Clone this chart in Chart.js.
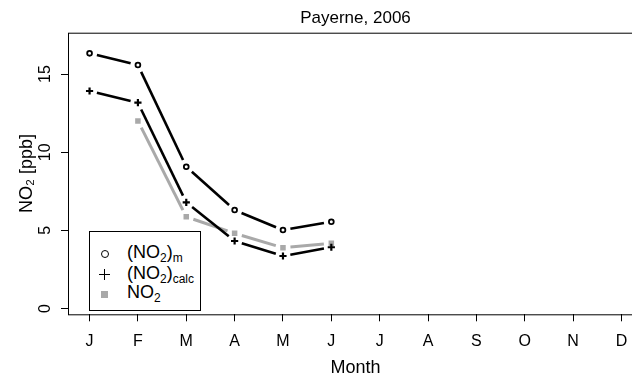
<!DOCTYPE html>
<html>
<head>
<meta charset="utf-8">
<script src="https://cdn.jsdelivr.net/npm/chart.js@4"></script>
<style>
  body { margin: 0; overflow: hidden; background: #fff; }
  #wrap { position: relative; width: 660px; height: 377px; }
  #legend {
    position: absolute; left: 89px; top: 231px; width: 112px; height: 80px;
    box-sizing: border-box; border: 1px solid #000; background: #fff;
    font-family: "Liberation Sans", Arial, sans-serif; font-size: 18px; color: #000;
  }
  #legend .row { position: absolute; left: 0; height: 20px; line-height: 20px; width: 100%; }
  #legend .txt { position: absolute; left: 37px; top: -2px; white-space: nowrap; }
  #legend sub { font-size: 12px; vertical-align: -4px; line-height: 0; }
  #legend .mk { position: absolute; }
</style>
</head>
<body>
<div id="wrap">
  <canvas id="chart" width="660" height="377"></canvas>
  <div id="legend">
    <div class="row" style="top:12px">
      <span class="mk" style="left:11px;top:6px;width:6px;height:6px;border:1px solid #000;border-radius:50%"></span>
      <span class="txt">(NO<sub>2</sub>)<sub>m</sub></span>
    </div>
    <div class="row" style="top:33px">
      <span class="mk" style="left:9px;top:9px;width:11px;height:1px;background:#000"></span>
      <span class="mk" style="left:14px;top:4px;width:1px;height:11px;background:#000"></span>
      <span class="txt">(NO<sub>2</sub>)<sub>calc</sub></span>
    </div>
    <div class="row" style="top:52px">
      <span class="mk" style="left:11px;top:7px;width:7px;height:7px;background:#a9a9a9"></span>
      <span class="txt">NO<sub>2</sub></span>
    </div>
  </div>
</div>
<script>
// valeurs
const months = ["J", "F", "M", "A", "M", "J", "J", "A", "S", "O", "N", "D"];
const no2m = [16.33, 15.58, 9.07, 6.30, 5.02, 5.55];
const no2calc = [13.92, 13.17, 6.79, 4.32, 3.36, 3.92];
const no2 = [null, 12.0, 5.87, 4.81, 3.89, 4.17];
const yTicks = [0, 5, 10, 15];

const toXY = arr => arr.map((v, i) => ({ x: i, y: v })).filter(p => p.y !== null);

const GAP = 7.5;
const FONT = "'Liberation Sans', Arial, sans-serif";

// lignes type "b" de R : segments interrompus autour des points
const gapLines = {
  id: "gapLines",
  beforeDatasetDraw(chart, args) {
    const ds = chart.data.datasets[args.index];
    const pts = args.meta.data;
    const ctx = chart.ctx;
    ctx.save();
    ctx.strokeStyle = ds.lineColor;
    ctx.lineWidth = ds.lineWidth;
    ctx.lineCap = "butt";
    for (let i = 1; i < pts.length; i++) {
      const a = pts[i - 1], b = pts[i];
      const dx = b.x - a.x, dy = b.y - a.y;
      const len = Math.hypot(dx, dy);
      if (len <= 2 * GAP) continue;
      const ux = dx / len, uy = dy / len;
      ctx.beginPath();
      ctx.moveTo(a.x + ux * GAP, a.y + uy * GAP);
      ctx.lineTo(b.x - ux * GAP, b.y - uy * GAP);
      ctx.stroke();
    }
    ctx.restore();
  }
};

// cadre + étiquettes verticales de l'axe y
const frame = {
  id: "frame",
  afterDraw(chart) {
    const { ctx, chartArea: ca } = chart;
    ctx.save();
    ctx.strokeStyle = "#000";
    ctx.lineWidth = 1;
    ctx.strokeRect(ca.left + 0.5, ca.top + 0.5, ca.right - ca.left, ca.bottom - ca.top);
    const ys = chart.scales.y;
    ctx.fillStyle = "#000";
    ctx.font = "16px " + FONT;
    ctx.textAlign = "center";
    ctx.textBaseline = "middle";
    yTicks.forEach(v => {
      ctx.save();
      ctx.translate(46, ys.getPixelForValue(v));
      ctx.rotate(-Math.PI / 2);
      ctx.fillText(String(v), 0, 0);
      ctx.restore();
    });
    ctx.restore();
  }
};

new Chart(document.getElementById("chart"), {
  type: "line",
  data: {
    datasets: [
      {
        label: "(NO2)m",
        data: toXY(no2m),
        showLine: false,
        lineColor: "#000", lineWidth: 2.6,
        pointStyle: "circle", pointRadius: 2.4, pointBorderWidth: 1.8,
        pointBorderColor: "#000", pointBackgroundColor: "rgba(0,0,0,0)"
      },
      {
        label: "(NO2)calc",
        data: toXY(no2calc),
        showLine: false,
        lineColor: "#000", lineWidth: 2.6,
        pointStyle: "cross", pointRadius: 3.6, pointBorderWidth: 2.2,
        pointBorderColor: "#000"
      },
      {
        label: "NO2",
        data: toXY(no2),
        showLine: false,
        lineColor: "#a9a9a9", lineWidth: 3,
        pointStyle: "rect", pointRadius: 3.9, pointBorderWidth: 0,
        pointBorderColor: "#a9a9a9", pointBackgroundColor: "#a9a9a9"
      }
    ]
  },
  options: {
    responsive: false,
    animation: false,
    events: [],
    layout: { padding: { left: 0, right: 17, top: 0, bottom: 0 } },
    plugins: {
      legend: { display: false },
      tooltip: { enabled: false },
      title: {
        display: true,
        fullSize: false,
        text: "Payerne, 2006",
        color: "#000",
        font: { family: FONT, size: 17, weight: "normal", lineHeight: 1.2 },
        padding: { top: 8, bottom: 4.3 }
      }
    },
    scales: {
      x: {
        type: "linear",
        min: -0.446,
        max: 11.446,
        afterBuildTicks: s => { s.ticks = months.map((m, i) => ({ value: i })); },
        afterFit: s => { s.height = 62.7; },
        grid: { drawOnChartArea: false, drawTicks: true, tickLength: 7, color: "#000" },
        border: { display: false },
        ticks: {
          autoSkip: false, maxRotation: 0, padding: 11,
          color: "#000", font: { family: FONT, size: 16 },
          callback: (v) => months[v]
        },
        title: {
          display: true, text: "Month", color: "#000",
          font: { family: FONT, size: 18, lineHeight: 1 }, padding: 0
        }
      },
      y: {
        min: -0.37,
        max: 17.65,
        afterBuildTicks: s => { s.ticks = yTicks.map(v => ({ value: v })); },
        afterFit: s => { s.width = 68; },
        grid: { drawOnChartArea: false, drawTicks: true, tickLength: 7, color: "#000" },
        border: { display: false },
        ticks: { display: false },
        title: {
          display: true, text: "NO₂ [ppb]", color: "#000",
          font: { family: FONT, size: 18, lineHeight: 1 }, padding: { top: 18, bottom: 0 }
        }
      }
    }
  },
  plugins: [gapLines, frame]
});
</script>
</body>
</html>
